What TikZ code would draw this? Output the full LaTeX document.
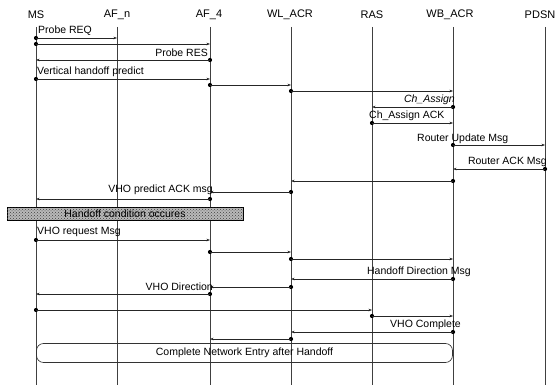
\documentclass[tikz,border=0pt]{standalone}
\usepackage{fontspec}
\setmainfont{Liberation Sans}
\usetikzlibrary{arrows.meta,patterns}
\tikzset{
  life/.style={draw=black!75, line width=0.5pt},
  head/.style={font=\fontsize{11}{13}\selectfont, inner sep=0pt},
  lbl/.style={font=\fontsize{10.5}{12}\selectfont, inner sep=0pt},
  msg/.style={draw=black!85, line width=0.55pt, -{Stealth[length=3.5pt,width=2.6pt]}},
  dotc/.style={fill=black},
  hatchbox/.style={draw=black, line width=0.6pt, fill=gray!55, postaction={pattern=crosshatch dots, pattern color=black!75}, minimum width=236pt, minimum height=13pt, inner sep=0pt, font=\fontsize{10.5}{12}\selectfont},
  entrybox/.style={draw=black!80, line width=0.6pt, rounded corners=7pt, minimum width=416pt, minimum height=19pt, inner sep=0pt, font=\fontsize{10.5}{12}\selectfont}
}
\newcommand\mymsg[3]{%
  \fill[dotc] ([yshift=-#3pt]#1) circle (2.1pt);
  \draw[msg] ([yshift=-#3pt]#1) -- ([yshift=-#3pt]#2);}
\begin{document}
\begin{tikzpicture}[x=1pt,y=-1pt]
\useasboundingbox (0,0) rectangle (557,385);
% lifeline tops
\coordinate (MS) at (36,0);
\coordinate (AFn) at (117,0);
\coordinate (AF4) at (210,0);
\coordinate (WL) at (291,0);
\coordinate (RAS) at (372,0);
\coordinate (WB) at (453,0);
\coordinate (PDSN) at (545,0);
% headers
\node[head] (hMS) at (36,15) {MS};
\node[head] (hAFn) at (117,15) {AF\_n};
\node[head] (hAF4) at (209,15) {AF\_4};
\node[head] (hWL) at (290,15) {WL\_ACR};
\node[head] (hRAS) at (372,15) {RAS};
\node[head] (hWB) at (450,15) {WB\_ACR};
\node[head] (hPDSN) at (540,15) {PDSN};
% lifelines
\foreach \c in {MS,AFn,AF4,WL,RAS,WB,PDSN}{
  \draw[life] ([yshift=-27pt]\c) -- ([yshift=-385pt]\c);
}
% boxes
\node[hatchbox] (cond) at (125,213.5) {Handoff condition occures};
\node[entrybox] (entry) at (244.5,353) {Complete Network Entry after Handoff};
% messages
\mymsg{MS}{AFn}{38}
\mymsg{MS}{AF4}{44}
\mymsg{AF4}{MS}{60}
\mymsg{MS}{AF4}{79}
\mymsg{AF4}{WL}{85}
\mymsg{WL}{WB}{91}
\mymsg{WB}{RAS}{107}
\mymsg{RAS}{WB}{123}
\mymsg{WB}{PDSN}{145}
\mymsg{PDSN}{WB}{169}
\mymsg{WB}{WL}{181}
\mymsg{WL}{AF4}{192}
\mymsg{AF4}{MS}{199}
\mymsg{MS}{AF4}{240}
\mymsg{AF4}{WL}{252}
\mymsg{WL}{WB}{259}
\mymsg{WB}{WL}{279}
\mymsg{WL}{AF4}{287}
\mymsg{AF4}{MS}{294}
\mymsg{MS}{RAS}{310}
\mymsg{RAS}{WB}{316}
\mymsg{WB}{WL}{332}
\mymsg{WL}{AF4}{339}
% labels
\node[lbl, anchor=west] (l1) at (38,31) {Probe REQ};
\node[lbl, anchor=east] (l2) at (208,53) {Probe RES};
\node[lbl, anchor=west] (l3) at (37,72) {Vertical handoff predict};
\node[lbl, anchor=east, font=\fontsize{10.5}{12}\selectfont\itshape] (l4) at (455,100) {Ch\_Assign};
\node[lbl, anchor=west] (l5) at (369,116) {Ch\_Assign ACK};
\node[lbl, anchor=west] (l6) at (417,139) {Router Update Msg};
\node[lbl, anchor=east] (l7) at (547,162) {Router ACK Msg};
\node[lbl, anchor=east] (l8) at (213,190) {VHO predict ACK msg};
\node[lbl, anchor=west] (l9) at (37,232) {VHO request Msg};
\node[lbl, anchor=east] (l10) at (471,272) {Handoff Direction Msg};
\node[lbl, anchor=east] (l11) at (213,287) {VHO Direction};
\node[lbl, anchor=east] (l12) at (461,325) {VHO Complete};
\end{tikzpicture}
\end{document}
